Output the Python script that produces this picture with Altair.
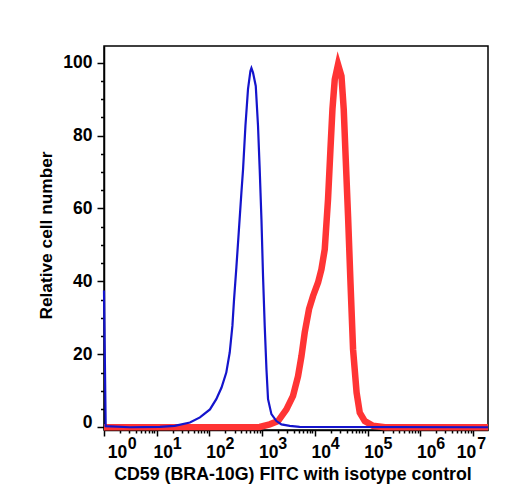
import math
import altair as alt
import pandas as pd

# ---- data (x in log10 units of fluorescence, y = relative cell number) ----
blue_log = [0.0, 0.032, 0.49, 1.06, 1.34, 1.63, 1.82, 2.01, 2.13, 2.23, 2.32, 2.385,
            2.436, 2.467, 2.512, 2.556, 2.607, 2.638, 2.683, 2.732, 2.778, 2.797,
            2.827, 2.879, 2.922, 2.954, 2.987, 3.017, 3.049, 3.082, 3.112, 3.176,
            3.271, 3.366, 3.524, 3.71, 7.285]
blue_val = [37.5, 0.3, 0.0, 0.1, 0.4, 1.3, 2.7, 4.9, 7.7, 10.9, 15.0, 20.5,
            27.8, 35.0, 44.0, 53.4, 64.4, 70.7, 82.6, 92.7, 97.7, 98.5,
            97.3, 93.6, 82.6, 70.7, 57.0, 41.5, 27.8, 15.9, 7.7, 3.6,
            1.7, 0.8, 0.4, 0.1, 0.0]

red_log = [0.0, 2.954, 3.144, 3.302, 3.461, 3.586, 3.681, 3.746, 3.808, 3.89,
           3.966, 4.061, 4.125, 4.188, 4.25, 4.296, 4.334, 4.378, 4.44, 4.505,
           4.548, 4.586, 4.63, 4.676, 4.725, 4.792, 4.852, 4.947, 5.104, 5.33, 7.285]
red_val = [0.0, 0.1, 0.8, 1.7, 4.9, 8.6, 14.0, 19.5, 26.0, 32.4,
           36.0, 39.7, 43.3, 48.8, 62.5, 76.2, 87.2, 95.4, 99.5, 96.3,
           87.2, 73.5, 57.9, 39.7, 21.4, 9.5, 4.0, 1.7, 0.4, 0.0, 0.0]

decades = [0, 1, 2, 3, 4, 5, 6, 7]
bases = ["10"] * 8
exponents = ["0", "1", "2", "3", "4", "5", "6", "7"]
y_tick_values = list(range(0, 101, 5))

x_title = "CD59 (BRA-10G) FITC with isotype control"
y_title = "Relative cell number"

FONT = "Liberation Sans"
W, H = 384, 384

x_minor = [k + math.log10(m) for k in range(7) for m in range(2, 10)]
x_tick_values = sorted([float(d) for d in decades] + x_minor)

xscale = alt.Scale(domain=[0, 7.285], nice=False, zero=False)
yscale = alt.Scale(domain=[-0.75, 104.55], nice=False, zero=False)

xaxis = alt.Axis(
    values=x_tick_values, labels=False, grid=False, title=None,
    domainColor="black", domainWidth=1.5,
    tickColor="black", tickWidth=1.5,
    tickSize={"condition": {"test": "abs(datum.value - round(datum.value)) < 0.0001", "value": 6}, "value": 3},
)
yaxis = alt.Axis(
    values=y_tick_values, grid=False, labelOverlap=False, labelFlush=False,
    labelExpr="datum.value % 20 === 0 ? datum.label : ''",
    labelFont=FONT, labelFontSize=17.5, labelFontWeight="bold", labelColor="black",
    labelPadding=5,
    labelOffset={"condition": {"test": "datum.value === 0", "value": -5}, "value": 0},
    domainColor="black", domainWidth=1.5,
    tickColor="black", tickWidth=1.5,
    tickSize={"condition": {"test": "datum.value % 20 === 0", "value": 7}, "value": 3.5},
    title=y_title, titleFont=FONT, titleFontSize=17.3, titleFontWeight="bold",
    titleColor="black", titleBaseline="alphabetic", titleAlign="center",
    titleAngle=270, titleX=-53, titleY=189,
)

df_blue = pd.DataFrame({"x": blue_log, "y": blue_val})
df_red = pd.DataFrame({"x": red_log, "y": red_val})
df_lab = pd.DataFrame({"d": decades, "base": bases, "exp": exponents})
df_title = pd.DataFrame({"t": [x_title]})

red = alt.Chart(df_red).mark_line(color="#ff3434", strokeWidth=6.5, strokeMiterLimit=40).encode(
    x=alt.X("x:Q", scale=xscale, axis=xaxis),
    y=alt.Y("y:Q", scale=yscale, axis=yaxis),
)
blue = alt.Chart(df_blue).mark_line(color="#1414cc", strokeWidth=2.2, strokeMiterLimit=40).encode(
    x=alt.X("x:Q", scale=xscale, axis=xaxis),
    y=alt.Y("y:Q", scale=yscale, axis=yaxis),
)


def label_layer(test, field, dx, ypix, size, align):
    return (
        alt.Chart(df_lab)
        .transform_filter(test)
        .mark_text(dx=dx, align=align, baseline="alphabetic", font=FONT,
                   fontSize=size, fontWeight="bold", color="black")
        .encode(x=alt.X("d:Q", scale=xscale, axis=xaxis), y=alt.value(ypix),
                text=alt.Text(f"{field}:N"))
    )


mid = "datum.d >= 1 && datum.d <= 6"
first = "datum.d === 0"
last = "datum.d === 7"

xtitle_layer = alt.Chart(df_title).mark_text(
    align="center", baseline="alphabetic", font=FONT, fontSize=17.8,
    fontWeight="bold", color="black",
).encode(x=alt.value(189), y=alt.value(434), text="t:N")

layers = [
    red, blue,
    label_layer(mid, "base", 6.5, 412, 17.5, "center"),
    label_layer(first, "base", 13.5, 412, 17.5, "center"),
    label_layer(last, "base", -6.5, 412, 17.5, "center"),
    label_layer(mid, "exp", 16, 403, 16, "left"),
    label_layer(first, "exp", 23.7, 403, 16, "left"),
    label_layer(last, "exp", 4.3, 403, 16, "left"),
    xtitle_layer,
]

chart = (
    alt.layer(*layers)
    .properties(
        width=W, height=H,
        autosize=alt.AutoSizeParams(type="none"),
        padding={"left": 104, "top": 46, "right": 20, "bottom": 70},
        background="white",
    )
    .configure_view(stroke="black", strokeWidth=1.5)
)

chart.save("out.html", embed_options={"renderer": "svg", "actions": False})
